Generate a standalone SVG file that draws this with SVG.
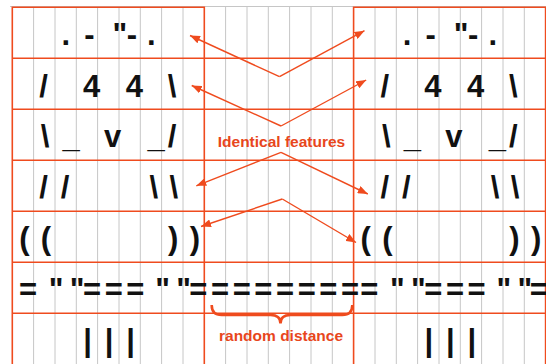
<svg xmlns="http://www.w3.org/2000/svg" width="546" height="364" viewBox="0 0 546 364">
<style>
.g{stroke:#c6c6c6;stroke-width:1;fill:none}
.r{stroke:#ef4b1e;stroke-width:1.6;fill:none}
.a{stroke:#ef4b1e;stroke-width:1.4;fill:none;marker-end:url(#ah)}
.c{font-family:"Liberation Sans",Arial,sans-serif;font-weight:bold;font-size:31px;fill:#111;text-anchor:middle}
.l{font-family:"Liberation Sans",Arial,sans-serif;font-weight:bold;font-size:15.5px;fill:#e8461c;text-anchor:middle}
</style>
<defs>
<marker id="ah" viewBox="0 0 10 8" refX="10" refY="4" markerWidth="10" markerHeight="8" markerUnits="userSpaceOnUse" orient="auto">
<path d="M0,0 L10,4 L0,8 Z" fill="#ef4b1e"/>
</marker>
</defs>
<rect width="546" height="364" fill="#fff"/>
<g id="grid">
<line class="g" x1="10" y1="6.5" x2="546" y2="6.5"/>
<path class="g" d="M33.6,7V364M55,7V364M76.3,7V364M97.6,7V364M119,7V364M140.3,7V364M161.6,7V364M183,7V364M225.6,7V364M247,7V364M268.3,7V364M289.6,7V364M311,7V364M332.3,7V364M375,7V364M396.3,7V364M417.6,7V364M439,7V364M460.3,7V364M481.6,7V364M503,7V364M524.3,7V364"/>
<path class="r" d="M12.3,364V7.3H204.3V364M353.6,364V7.3H545.6V364"/>
<path class="r" d="M12.3,58.3H546M12.3,109.3H546M12.3,160.3H546M12.3,211.3H546M12.3,262.3H546M12.3,313.3H546"/>
</g>
<g id="face-left">
<text class="c" x="65.8 89.3 119.8 131.8 151.4" y="44.5">.-"-.</text>
<text class="c" x="43.5 91.5 134.3 172" y="96.5">/44\</text>
<text class="c" x="45 71 112.5 156 172" y="147">\_v_/</text>
<text class="c" x="43.5 65 153.8 173.8" y="198">//\\</text>
<text class="c" x="24.3 46 173.2 194.8" y="249">(())</text>
<text class="c" x="28 56 77 92 113.7 135.3 162.5 183.5" y="300">=""===""</text>
<text class="c" x="87.5 109 130.5" y="351">|||</text>
</g>
<g id="middle">
<text class="c" x="198.3 220 241.7 263.3 285 306.7 328.3 350" y="300">========</text>
</g>
<g id="face-right" transform="translate(341.3,0)">
<text class="c" x="65.8 89.3 119.8 131.8 151.4" y="44.5">.-"-.</text>
<text class="c" x="43.5 91.5 134.3 172" y="96.5">/44\</text>
<text class="c" x="45 71 112.5 156 172" y="147">\_v_/</text>
<text class="c" x="43.5 65 153.8 173.8" y="198">//\\</text>
<text class="c" x="24.3 46 173.2 194.8" y="249">(())</text>
<text class="c" x="28 56 77 92 113.7 135.3 162.5 183.5 197.6" y="300">=""===""=</text>
<text class="c" x="87.5 109 130.5" y="351">|||</text>
</g>
<g id="connectors">
<line class="a" x1="279.5" y1="76.7" x2="190" y2="35.5"/>
<line class="a" x1="279.5" y1="76.7" x2="364.5" y2="30.7"/>
<line class="a" x1="281" y1="126" x2="191.7" y2="85.5"/>
<line class="a" x1="281" y1="126" x2="366.2" y2="80"/>
<line class="a" x1="281" y1="152.3" x2="196.3" y2="185.8"/>
<line class="a" x1="281" y1="152.3" x2="367.8" y2="194"/>
<line class="a" x1="282.3" y1="199" x2="201" y2="226.5"/>
<line class="a" x1="282.3" y1="199" x2="356" y2="242.5"/>
<path d="M211.7,305Q211.7,315 221.7,315L270.5,315Q280.5,315 280.5,323.5Q280.5,315 290.5,315L342.3,315Q352.3,315 352.3,305" stroke="#ef4b1e" stroke-width="2.6" fill="none"/>
</g>
<g id="labels">
<text class="l" x="281.5" y="147.3">Identical features</text>
<text class="l" x="281" y="341">random distance</text>
</g>
</svg>
